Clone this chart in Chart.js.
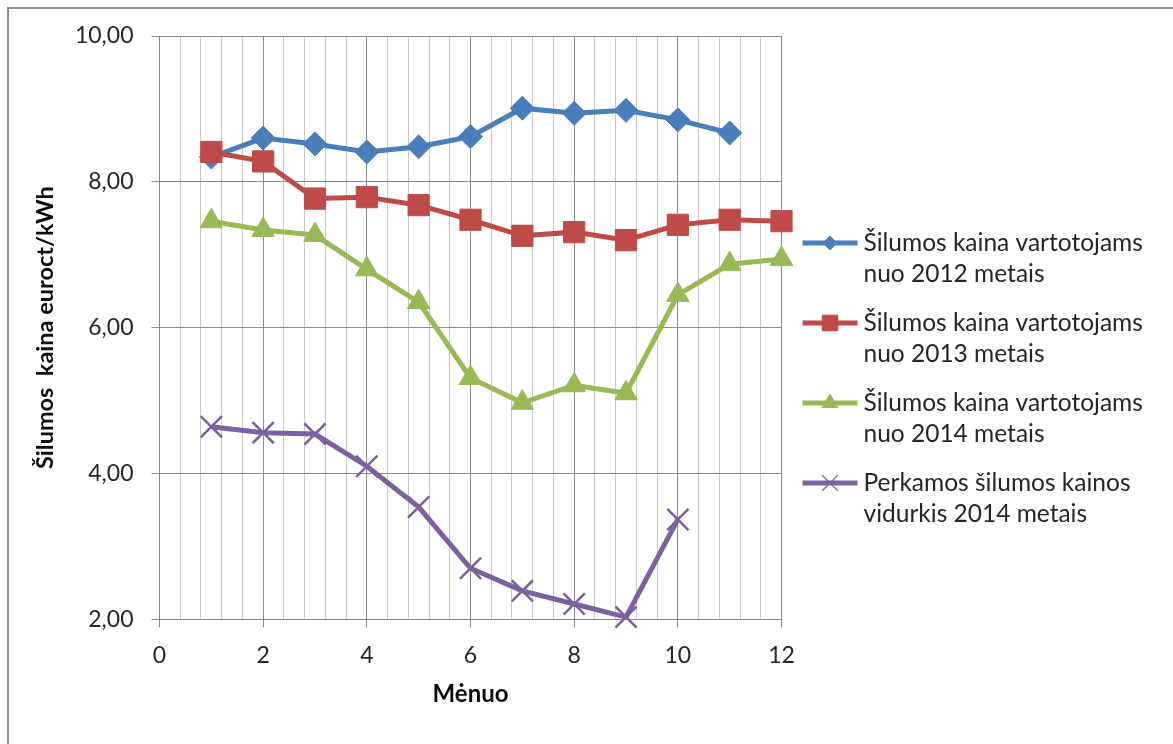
<!DOCTYPE html>
<html>
<head>
<meta charset="utf-8">
<script src="https://cdn.jsdelivr.net/npm/chart.js@4/dist/chart.umd.min.js"></script>
<style>
  html, body { margin: 0; padding: 0; background: #fff; }
  canvas { display: block; }
</style>
</head>
<body>
<canvas id="c" width="1173" height="744"></canvas>
<script>
// Months (1..12) and monthly heat prices, euro cents per kWh
const months = [1, 2, 3, 4, 5, 6, 7, 8, 9, 10, 11, 12];
const price2012 = [8.34, 8.60, 8.52, 8.41, 8.48, 8.62, 9.01, 8.94, 8.98, 8.85, 8.67, null];
const price2013 = [8.41, 8.28, 7.77, 7.79, 7.68, 7.48, 7.26, 7.31, 7.20, 7.41, 7.48, 7.46];
const price2014 = [7.46, 7.34, 7.27, 6.80, 6.35, 5.31, 4.97, 5.21, 5.10, 6.45, 6.87, 6.94];
const purchase2014 = [4.64, 4.56, 4.54, 4.10, 3.54, 2.70, 2.39, 2.21, 2.03, 3.37, null, null];

const seriesNames = [
  ['Šilumos kaina vartotojams', 'nuo 2012 metais'],
  ['Šilumos kaina vartotojams', 'nuo 2013 metais'],
  ['Šilumos kaina vartotojams', 'nuo 2014 metais'],
  ['Perkamos šilumos kainos', 'vidurkis 2014 metais']
];
const yTitle = 'Šilumos  kaina euroct/kWh';
const xTitle = 'Mėnuo';

const FONT = 'Lato, "Open Sans", sans-serif';
const TEXT = '#262626';

function pts(values) {
  return months.map((m, i) => ({ x: m, y: values[i] })).filter(p => p.y !== null);
}

const styles = [
  { color: '#4A7EBB', point: 'rectRot', r: 12, lr: 7 },
  { color: '#BE4B48', point: 'rect', r: 15, lr: 11 },
  { color: '#98B954', point: 'triangle', r: 13, lr: 9 },
  { color: '#7D60A0', point: 'crossRot', r: 15, lr: 11 }
];

const seriesData = [price2012, price2013, price2014, purchase2014];

const datasets = seriesData.map((vals, i) => ({
  label: seriesNames[i].join(' '),
  data: pts(vals),
  borderColor: styles[i].color,
  backgroundColor: styles[i].color,
  borderWidth: 5,
  pointStyle: styles[i].point,
  pointRadius: styles[i].r,
  pointHoverRadius: styles[i].r,
  pointBackgroundColor: styles[i].color,
  pointBorderColor: styles[i].color,
  pointBorderWidth: styles[i].point === 'crossRot' ? 2.5 : 1,
  tension: 0,
  fill: false,
  clip: false,
  order: 4 - i
}));

function isMajor(v) {
  return Math.abs(v / 2 - Math.round(v / 2)) < 1e-6;
}

// Grey frame around the whole figure
const framePlugin = {
  id: 'frame',
  beforeDraw(chart) {
    const ctx = chart.ctx;
    ctx.save();
    ctx.fillStyle = '#fff';
    ctx.fillRect(0, 0, chart.width, chart.height);
    ctx.strokeStyle = '#8c8c8c';
    ctx.lineWidth = 2;
    ctx.strokeRect(8, 8, chart.width + 20, chart.height + 20);
    ctx.restore();
  }
};

// Legend to the right of the plot: a short line with its marker, then two text lines
const sideLegend = {
  id: 'sideLegend',
  afterDraw(chart) {
    const ctx = chart.ctx;
    const x0 = chart.chartArea.right + 21;
    const x1 = x0 + 55;
    const tx = x1 + 6;
    const top = 243;
    ctx.save();
    chart.data.datasets.forEach((ds, i) => {
      const y = top + i * 80;
      const st = styles[i];
      ctx.strokeStyle = st.color;
      ctx.lineWidth = 5;
      ctx.lineCap = 'butt';
      ctx.beginPath();
      ctx.moveTo(x0, y);
      ctx.lineTo(x1, y);
      ctx.stroke();
      ctx.fillStyle = st.color;
      ctx.lineWidth = st.point === 'crossRot' ? 1.2 : 1;
      Chart.helpers.drawPoint(ctx, { pointStyle: st.point, radius: st.lr, rotation: 0, borderWidth: ctx.lineWidth }, (x0 + x1) / 2, y);
      ctx.fillStyle = TEXT;
      ctx.font = '24.5px ' + FONT;
      ctx.textAlign = 'left';
      ctx.textBaseline = 'middle';
      seriesNames[i].forEach((line, k) => ctx.fillText(line, tx, y + k * 31));
    });
    ctx.restore();
  }
};

new Chart(document.getElementById('c'), {
  type: 'line',
  data: { datasets },
  plugins: [framePlugin, sideLegend],
  options: {
    responsive: false,
    animation: false,
    events: [],
    layout: { padding: { left: 0, top: 36, right: 391.5, bottom: 0 } },
    plugins: {
      legend: { display: false },
      tooltip: { enabled: false }
    },
    scales: {
      x: {
        type: 'linear',
        min: 0,
        max: 12,
        afterFit(scale) { scale.height = 124.7; },
        ticks: {
          stepSize: 0.4,
          autoSkip: false,
          maxRotation: 0,
          padding: 14,
          color: TEXT,
          font: { family: FONT, size: 23 },
          callback: v => isMajor(v) ? String(Math.round(v)) : ''
        },
        grid: {
          drawTicks: true,
          tickLength: 8,
          color: c => isMajor(c.tick.value) ? '#8c8c8c' : '#c8c8c8',
          tickColor: c => isMajor(c.tick.value) ? '#8c8c8c' : 'rgba(0,0,0,0)',
          lineWidth: 1
        },
        border: { display: true, color: '#868686', width: 1 },
        title: {
          display: true,
          text: xTitle,
          color: '#0d0d0d',
          font: { family: FONT, size: 24, weight: 'bold' },
          padding: { top: 0, bottom: 35 }
        }
      },
      y: {
        type: 'linear',
        min: 2,
        max: 10,
        afterFit(scale) { scale.width = 159.5; },
        ticks: {
          stepSize: 2,
          padding: 18,
          color: TEXT,
          font: { family: FONT, size: 23 },
          callback: v => v.toFixed(2).replace('.', ',')
        },
        grid: {
          drawTicks: true,
          tickLength: 8,
          color: '#8c8c8c',
          tickColor: '#8c8c8c',
          lineWidth: 1
        },
        border: { display: true, color: '#868686', width: 1 },
        title: {
          display: true,
          text: yTitle,
          color: '#0d0d0d',
          font: { family: FONT, size: 23.5, weight: 'bold' },
          padding: { top: 31, bottom: 0 }
        }
      }
    }
  }
});
</script>
</body>
</html>
